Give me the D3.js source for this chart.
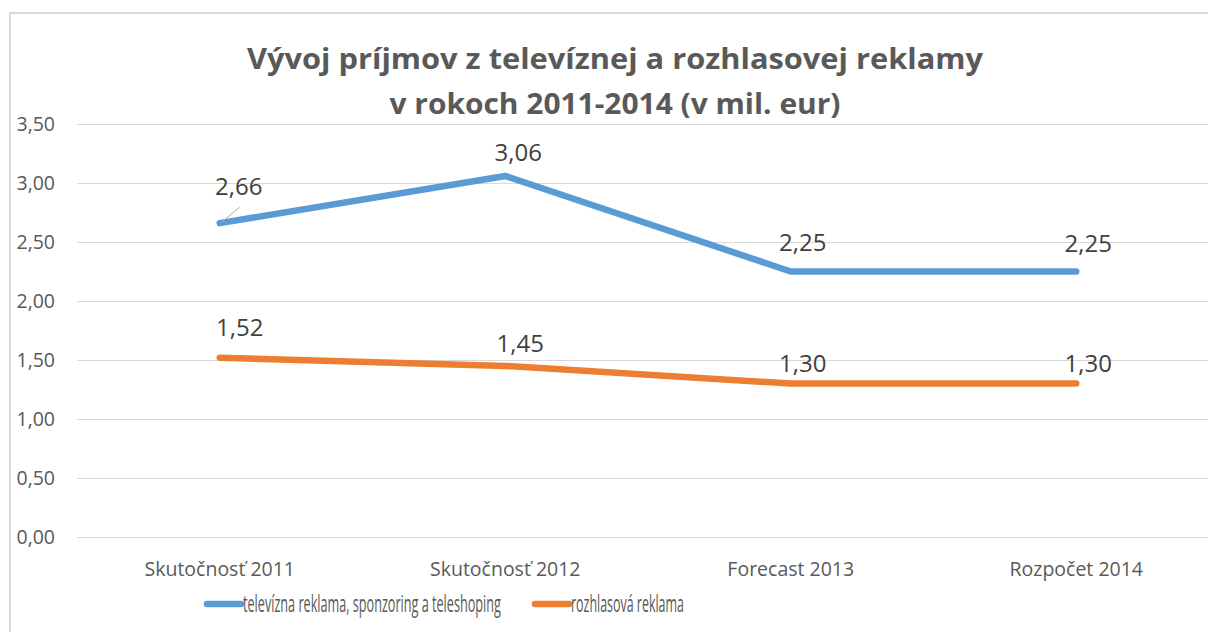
<!DOCTYPE html>
<html>
<head>
<meta charset="utf-8">
<script src="https://cdn.jsdelivr.net/npm/d3@7"></script>
<style>
  html, body { margin: 0; padding: 0; background: #fff; }
  svg { display: block; }
</style>
</head>
<body>
<svg id="chart" width="1208" height="632"></svg>
<script>
// ---- data ----
const categories = ["Skutočnosť 2011", "Skutočnosť 2012", "Forecast 2013", "Rozpočet 2014"];
const tvValues = [2.66, 3.06, 2.25, 2.25];
const radioValues = [1.52, 1.45, 1.30, 1.30];
const yTicks = [0, 0.5, 1, 1.5, 2, 2.5, 3, 3.5];
const seriesNames = ["televízna reklama, sponzoring a teleshoping", "rozhlasová reklama"];
const titleLines = ["Vývoj príjmov z televíznej a rozhlasovej reklamy", "v rokoch 2011-2014 (v mil. eur)"];

// ---- layout / style (not data) ----
const colors = ["#5b9bd5", "#ed7d31"];
const tvLabelNudge = [[19, -28], [13, -15], [12, -21], [12, -20]];
const radioLabelNudge = [[20, -22], [15, -14], [12, -12], [12, -12]];

const svg = d3.select("#chart");
const fmt = v => d3.format(".2f")(v).replace(".", ",");

// chart border (only top and left visible)
svg.append("path")
  .attr("d", "M10,632 L10,13 L1208,13")
  .attr("fill", "none").attr("stroke", "#d9d9d9").attr("stroke-width", 2);

const x = d3.scaleBand().domain(categories).range([77, 1219]);
const y = d3.scaleLinear().domain([0, 3.5]).range([537, 124]);

// gridlines
svg.append("g").selectAll("line").data(yTicks).join("line")
  .attr("x1", 77).attr("x2", 1208)
  .attr("y1", d => Math.round(y(d)) + 0.5).attr("y2", d => Math.round(y(d)) + 0.5)
  .attr("stroke", "#d9d9d9").attr("stroke-width", 1);

// y axis labels
const yAxis = d3.axisLeft(y).tickValues(yTicks).tickFormat(fmt).tickSize(0).tickPadding(0);
const gy = svg.append("g").attr("transform", "translate(55,0)").call(yAxis);
gy.select(".domain").remove();
gy.selectAll("text")
  .attr("font-family", "'Open Sans', sans-serif").attr("font-size", 19.5)
  .attr("fill", "#595959").attr("dy", "0.32em");

// x axis labels
const xAxis = d3.axisBottom(x).tickSize(0).tickPadding(0);
const gx = svg.append("g").attr("transform", "translate(0,562)").call(xAxis);
gx.select(".domain").remove();
gx.selectAll("text")
  .attr("font-family", "'Open Sans', sans-serif").attr("font-size", 19.5)
  .attr("fill", "#595959").attr("dy", "0.71em");

// title
svg.append("g").selectAll("text").data(titleLines).join("text")
  .attr("x", 615).attr("y", (d, i) => 69 + i * 45)
  .attr("text-anchor", "middle")
  .attr("font-family", "'Open Sans', sans-serif").attr("font-weight", "bold")
  .attr("font-size", 28).attr("fill", "#595959")
  .attr("textLength", (d, i) => i === 0 ? 736 : 451)
  .attr("lengthAdjust", "spacingAndGlyphs")
  .text(d => d);

// lines
const line = d3.line().x((d, i) => x(categories[i]) + x.bandwidth() / 2).y(d => y(d));
[tvValues, radioValues].forEach((vals, s) => {
  svg.append("path").datum(vals)
    .attr("d", line)
    .attr("fill", "none").attr("stroke", colors[s])
    .attr("stroke-width", 6.5).attr("stroke-linecap", "round").attr("stroke-linejoin", "round");
});

// leader line for first tv label
{
  const px = x(categories[0]) + x.bandwidth() / 2, py = y(tvValues[0]);
  svg.append("line")
    .attr("x1", px + 2).attr("y1", py - 1)
    .attr("x2", px + 20).attr("y2", py - 16)
    .attr("stroke", "#a6a6a6").attr("stroke-width", 1);
}

// data labels
[[tvValues, tvLabelNudge], [radioValues, radioLabelNudge]].forEach(([vals, nudge]) => {
  svg.append("g").selectAll("text").data(vals).join("text")
    .attr("x", (d, i) => x(categories[i]) + x.bandwidth() / 2 + nudge[i][0])
    .attr("y", (d, i) => y(d) + nudge[i][1])
    .attr("text-anchor", "middle")
    .attr("font-family", "'Open Sans', sans-serif").attr("font-size", 24)
    .attr("fill", "#404040")
    .text(d => fmt(d));
});

// legend (condensed text via horizontal scale)
const legendItems = [
  { name: seriesNames[0], color: colors[0], x0: 207, x1: 241, tx: 243, tw: 258 },
  { name: seriesNames[1], color: colors[1], x0: 535, x1: 569, tx: 571, tw: 113 }
];
const lg = svg.append("g");
legendItems.forEach(it => {
  lg.append("line").attr("x1", it.x0).attr("x2", it.x1).attr("y1", 604).attr("y2", 604)
    .attr("stroke", it.color).attr("stroke-width", 6.5).attr("stroke-linecap", "round");
  const g = lg.append("g");
  const t = g.append("text").attr("x", 0).attr("y", 0)
    .attr("font-family", "'Open Sans', sans-serif").attr("font-size", 23)
    .attr("fill", "#595959")
    .text(it.name);
  const w = t.node().getComputedTextLength();
  g.attr("transform", `translate(${it.tx},612) scale(${it.tw / w},1)`);
});
</script>
</body>
</html>
